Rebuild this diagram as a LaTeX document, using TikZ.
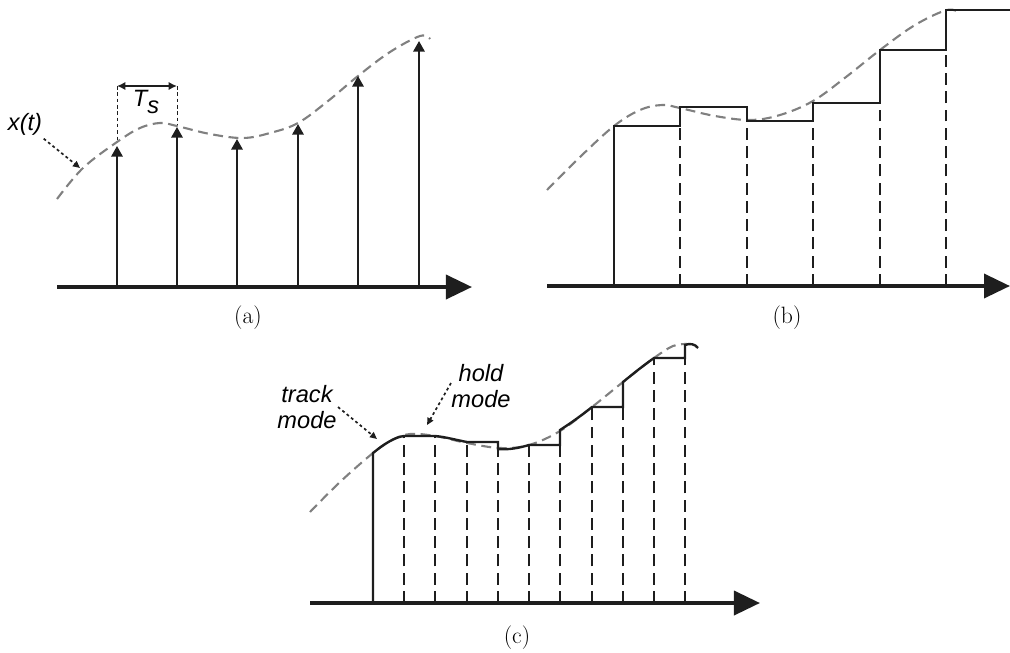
\documentclass[tikz,border=0pt]{standalone}
\usepackage{fontspec}
\setsansfont{Liberation Sans}
\usepackage{tikz}
\usetikzlibrary{arrows.meta,calc,positioning}
\definecolor{sggray}{RGB}{128,128,128}
\definecolor{sgdark}{RGB}{30,30,30}

\begin{document}
\begin{tikzpicture}[
  x=0.025cm, y=-0.025cm,
  every node/.style={font=\fontsize{16.8}{20}\selectfont},
  axis/.style={draw=sgdark, line width=2.8pt, -{Triangle[length=18.5pt, width=17pt]}},
  sig/.style={draw=sggray, line width=1.5pt, dash pattern=on 7pt off 4pt},
  stem/.style={draw=sgdark, line width=1.5pt, -{Triangle[length=7.5pt, width=8pt]}},
  held/.style={draw=sgdark, line width=1.7pt, line join=miter},
  grid/.style={draw=sgdark, line width=1.5pt, dash pattern=on 8.5pt off 4.5pt},
  guide/.style={draw=sgdark, line width=0.6pt, dash pattern=on 2.5pt off 2pt},
  ptr/.style={draw=sgdark, line width=1.2pt, dash pattern=on 2pt off 2pt,
    -{Triangle[length=5pt, width=4.5pt]}},
  note/.style={font=\fontsize{16.8}{19}\selectfont\sffamily\itshape, align=center, inner sep=1pt},
  sublab/.style={inner sep=0pt}
]
  \useasboundingbox (0,0) rectangle (1010,652);

  % (a) ideal sampling
  \draw[sig] plot[smooth, tension=0.6] coordinates {(57,199) (83,168) (117,142) (140,128) (160,123)
    (177,126) (210,134) (243,138) (270,133) (298,123) (328,101) (358,76) (390,52) (420,36) (430,39)};
  \draw[axis] (57,287) -- (472,287);
  \foreach \x/\y in {117/146, 177/127, 237/139, 298/124, 358/76, 419/41}
    \draw[stem] (\x,287) -- (\x,\y);
  \coordinate (tsl) at (117,86);
  \coordinate (tsr) at (177,86);
  \draw[guide] (tsl) -- (117,142);
  \draw[guide] (tsr) -- (177,125);
  \draw[draw=sgdark, line width=1.4pt, {Latex[length=6pt, width=6pt]}-{Latex[length=6pt, width=6pt]}] (tsl) -- (tsr);
  \node[note] (ts) at (146,102) {T\raisebox{-5pt}{s}};
  \node[note] (xt) at (25,124) {x(t)};
  \coordinate (xtpt) at (80,168);
  \draw[ptr] ($(xt.south east)+(0,2)$) -- (xtpt);
  \node[sublab] (la) at (248,318) {(a)};

  % (b) sample and hold
  \draw[sig] plot[smooth, tension=0.6] coordinates {(547,190) (580,157) (614,126) (640,110) (662,105)
    (680,108) (715,116) (750,120) (780,115) (813,101) (846,77) (880,50) (915,25) (947,10) (960,13)};
  \foreach \x/\y in {680/126, 747/121, 813/121, 880/103, 946/50}
    \draw[grid] (\x,286) -- (\x,\y);
  \draw[held] (614,286) -- (614,126) -- (680,126) -- (680,107) -- (747,107) -- (747,121)
    -- (813,121) -- (813,103) -- (880,103) -- (880,50) -- (946,50) -- (946,10) -- (1010,10);
  \draw[axis] (547,286) -- (1010,286);
  \node[sublab] (lb) at (787,318) {(b)};

  % (c) track and hold
  \draw[sig] plot[smooth, tension=0.6] coordinates {(310,512) (340,482) (373,453) (392,440) (410,434)
    (435,436) (467,443) (500,448) (529,445) (560,431) (592,407) (623,382) (654,358) (673,346) (687,344)};
  \foreach \x/\y in {404/436, 435/436, 467/442, 498/449, 529/445, 560/445, 592/407, 623/407, 654/358, 685/358}
    \draw[grid] (\x,603) -- (\x,\y);
  \draw[held] (373,603) -- (373,453) .. controls (384,444) and (395,437) .. (404,436) -- (435,436)
    .. controls (446,437) and (456,440) .. (467,442) -- (498,442) -- (498,449)
    .. controls (508,450) and (519,448) .. (529,445) -- (560,445) -- (560,430)
    .. controls (571,423) and (582,415) .. (592,407) -- (623,407) -- (623,382)
    .. controls (634,373) and (644,365) .. (654,358) -- (685,358) -- (685,345)
    .. controls (690,343) and (695,344) .. (698,348);
  \draw[axis] (310,603) -- (760,603);
  \node[note] (track) at (307,407) {track\\mode};
  \node[note] (hold) at (481,386) {hold\\mode};
  \coordinate (trackpt) at (377,439);
  \coordinate (holdpt) at (427,425);
  \draw[ptr] (338,407) -- (trackpt);
  \draw[ptr] (451,383) -- (holdpt);
  \node[sublab] (lc) at (517,638) {(c)};
\end{tikzpicture}
\end{document}
